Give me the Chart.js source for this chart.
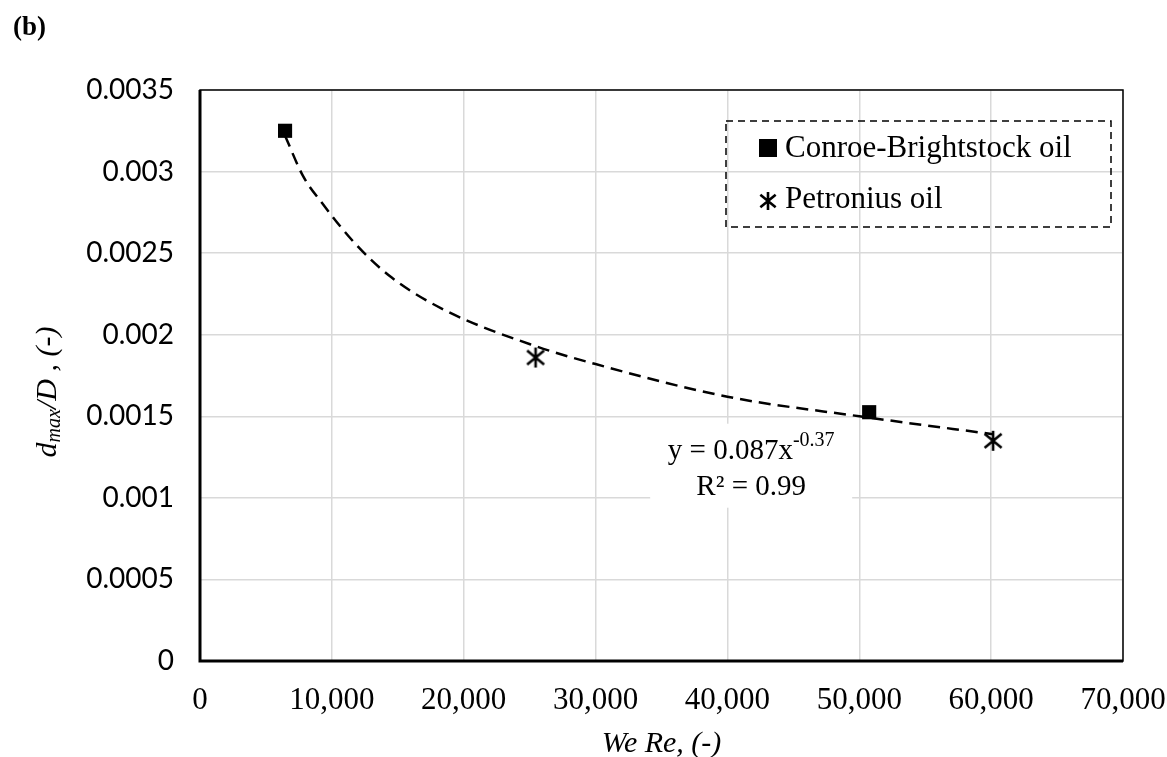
<!DOCTYPE html>
<html>
<head>
<meta charset="utf-8">
<script src="https://cdn.jsdelivr.net/npm/chart.js@4.4.1/dist/chart.umd.min.js"></script>
<style>
  html, body { margin: 0; padding: 0; background: #fff; }
</style>
</head>
<body>
<canvas id="myChart" width="1167" height="757"></canvas>
<script>
// data
const conroeX = [6450, 50750];
const conroeY = [0.00325, 0.001525];
const petroniusX = [25450, 60150];
const petroniusY = [0.00186, 0.00135];
// power-law trendline, sampled by eye along the dashed curve
const trendX = [6450, 7830, 9230, 11750, 14540, 18580, 25450, 30000, 40000, 50000, 60150];
const trendY = [0.00322, 0.00297, 0.00281, 0.00256, 0.00235, 0.00215, 0.00193, 0.00182, 0.00162, 0.00150, 0.00139];
const xTicks = [0, 10000, 20000, 30000, 40000, 50000, 60000, 70000];
const yTicks = [0, 0.0005, 0.001, 0.0015, 0.002, 0.0025, 0.003, 0.0035];
const seriesNames = ['Conroe-Brightstock oil', 'Petronius oil'];

const toPts = (xs, ys) => xs.map((x, i) => ({ x: x, y: ys[i] }));

// excel style star marker (X with a vertical bar)
function makeStar(size) {
    const c = document.createElement('canvas');
    c.width = size; c.height = size;
    const g = c.getContext('2d');
    const m = size / 2, r = size / 2 - 2;
    g.strokeStyle = '#000';
    g.lineWidth = 2.6;
    g.beginPath();
    g.moveTo(m - r * 0.85, m - r * 0.7); g.lineTo(m + r * 0.85, m + r * 0.7);
    g.moveTo(m + r * 0.85, m - r * 0.7); g.lineTo(m - r * 0.85, m + r * 0.7);
    g.moveTo(m, m - r); g.lineTo(m, m + r);
    g.stroke();
    return c;
}
const starMark = makeStar(24);
const starLegend = makeStar(22);

const serif = "'Liberation Serif', 'Times New Roman', serif";

const extras = {
    id: 'extras',
    beforeDatasetsDraw(chart) {
        const ctx = chart.ctx;
        const a = chart.chartArea;
        ctx.save();
        ctx.strokeStyle = '#000';
        ctx.lineWidth = 1.5;
        ctx.strokeRect(a.left, a.top, a.right - a.left, a.bottom - a.top);
        ctx.lineWidth = 3;
        ctx.beginPath();
        ctx.moveTo(a.left, a.top);
        ctx.lineTo(a.left, a.bottom);
        ctx.lineTo(a.right, a.bottom);
        ctx.stroke();
        ctx.restore();
    },
    afterDraw(chart) {
        const ctx = chart.ctx;
        const xs = chart.scales.x, ys = chart.scales.y;
        ctx.save();
        ctx.fillStyle = '#000';

        // panel letter
        ctx.font = "bold 27px " + serif;
        ctx.textBaseline = 'alphabetic';
        ctx.textAlign = 'left';
        ctx.fillText('(b)', 13, 35);

        // y axis title with subscript
        ctx.save();
        ctx.translate(48, 392);
        ctx.rotate(-Math.PI / 2);
        ctx.textBaseline = 'middle';
        const big = "italic 30px " + serif, small = "italic 20px " + serif;
        ctx.font = big; const w1 = ctx.measureText('d').width;
        ctx.font = small; const w2 = ctx.measureText('max').width;
        ctx.font = big; const w3 = ctx.measureText('/D , (-)').width;
        let px = -(w1 + w2 + w3) / 2;
        ctx.font = big; ctx.fillText('d', px, 0); px += w1;
        ctx.font = small; ctx.fillText('max', px, 7); px += w2;
        ctx.font = big; ctx.fillText('/D , (-)', px, 0);
        ctx.restore();

        // equation label
        const cx = xs.getPixelForValue(41800);
        const by = ys.getPixelForValue(0.00124);
        ctx.fillStyle = '#fff';
        ctx.fillRect(cx - 101, by - 35, 202, 84);
        ctx.fillStyle = '#000';
        ctx.font = "29px " + serif;
        const eq = 'y = 0.087x';
        const eqW = ctx.measureText(eq).width;
        ctx.font = "20px " + serif;
        const supW = ctx.measureText('-0.37').width;
        let ex = cx - (eqW + supW) / 2;
        ctx.font = "29px " + serif;
        ctx.fillText(eq, ex, by);
        ctx.font = "20px " + serif;
        ctx.fillText('-0.37', ex + eqW, by - 13);
        ctx.font = "29px " + serif;
        ctx.textAlign = 'center';
        ctx.fillText('R\u00B2 = 0.99', cx, by + 36);

        // legend box
        ctx.textAlign = 'left';
        ctx.strokeStyle = '#000';
        ctx.lineWidth = 1.5;
        ctx.setLineDash([7, 5]);
        ctx.strokeRect(726, 121, 385, 106);
        ctx.setLineDash([]);
        ctx.fillRect(759, 139, 18, 18);
        ctx.drawImage(starLegend, 757, 190);
        ctx.font = "31px " + serif;
        ctx.fillText(seriesNames[0], 785, 157);
        ctx.fillText(seriesNames[1], 785, 208);
        ctx.restore();
    }
};

const data = {
    datasets: [
        {
            label: seriesNames[0],
            data: toPts(conroeX, conroeY),
            pointStyle: 'rect',
            pointRadius: 10,
            backgroundColor: '#000',
            borderColor: '#000',
            borderWidth: 0,
            showLine: false
        },
        {
            label: seriesNames[1],
            data: toPts(petroniusX, petroniusY),
            pointStyle: starMark,
            backgroundColor: '#000',
            borderColor: '#000',
            showLine: false
        },
        {
            label: 'trend',
            data: toPts(trendX, trendY),
            showLine: true,
            borderColor: '#000',
            borderWidth: 2.5,
            borderDash: [12, 7],
            pointRadius: 0,
            cubicInterpolationMode: 'monotone',
            fill: false
        }
    ]
};

const config = {
    type: 'scatter',
    data,
    options: {
        responsive: false,
        animation: false,
        layout: { padding: { top: 90, right: 44, left: 0, bottom: 0 } },
        plugins: {
            legend: { display: false },
            tooltip: { enabled: false }
        },
        scales: {
            x: {
                type: 'linear',
                min: xTicks[0],
                max: xTicks[xTicks.length - 1],
                afterBuildTicks: s => { s.ticks = xTicks.map(v => ({ value: v })); },
                afterFit: s => { s.height = 96; s.paddingLeft = 0; s.paddingRight = 0; },
                ticks: {
                    color: '#000',
                    font: { family: serif, size: 31 },
                    padding: 21,
                    maxRotation: 0,
                    callback: v => v.toLocaleString('en-US')
                },
                grid: { color: '#d9d9d9', lineWidth: 1.5, drawTicks: false },
                border: { display: false },
                title: {
                    display: true,
                    text: 'We Re, (-)',
                    color: '#000',
                    font: { family: serif, size: 30, style: 'italic', lineHeight: 1 },
                    padding: { top: 0, bottom: -2 }
                }
            },
            y: {
                min: yTicks[0],
                max: yTicks[yTicks.length - 1],
                afterBuildTicks: s => { s.ticks = yTicks.map(v => ({ value: v })); },
                afterFit: s => { s.width = 200; s.paddingTop = 0; s.paddingBottom = 0; },
                ticks: {
                    color: '#000',
                    font: { family: 'Lato', size: 28 },
                    padding: 26,
                    callback: v => String(+v.toFixed(4))
                },
                grid: { color: '#d9d9d9', lineWidth: 1.5, drawTicks: false },
                border: { display: false }
            }
        }
    },
    plugins: [extras]
};

const myChart = new Chart(document.getElementById('myChart'), config);
</script>
</body>
</html>
